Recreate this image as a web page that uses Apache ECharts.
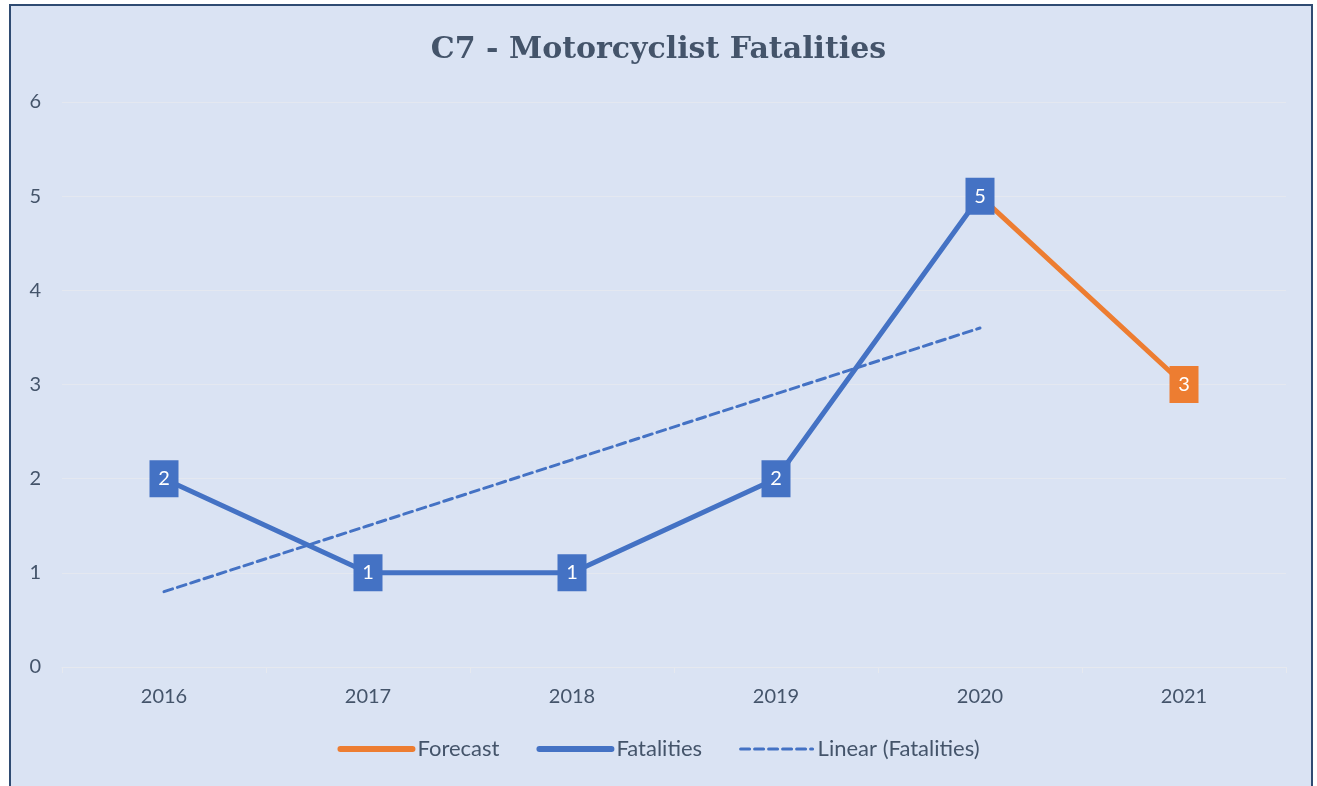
<!DOCTYPE html>
<html>
<head>
<meta charset="utf-8">
<title>C7 - Motorcyclist Fatalities</title>
<script src="https://cdn.jsdelivr.net/npm/echarts@6/dist/echarts.min.js"></script>
<style>
  html, body { margin: 0; padding: 0; background: #ffffff; }
  #chart { width: 1317px; height: 786px; }
</style>
</head>
<body>
<div id="chart"></div>
<script>
// data
const years = ['2016', '2017', '2018', '2019', '2020', '2021'];
const fatalities = [2, 1, 1, 2, 5, null];
const forecast = [null, null, null, null, 5, 3];
const linearTrend = [0.8, 1.5, 2.2, 2.9, 3.6, null];
const yTicks = [0, 1, 2, 3, 4, 5, 6];

const blue = '#4472c4';
const orange = '#ed7d31';
const textColor = '#44546a';
const bodyFont = 'Lato, "Open Sans", sans-serif';

const chart = echarts.init(document.getElementById('chart'));

// forecast starts at the 2020 point, but that box is drawn by Fatalities
const forecastData = forecast.map((v, i) => {
  if (v == null) return '-';
  if (fatalities[i] != null) return { value: v, symbol: 'none', label: { show: false } };
  return v;
});

const boxLabel = {
  show: true,
  position: 'inside',
  color: '#ffffff',
  fontSize: 20,
  fontFamily: bodyFont
};

// legend shows only the line, no marker
const legendItem = (name, width) => ({
  name: name,
  itemStyle: { opacity: 0, borderWidth: 0 },
  lineStyle: { width: width }
});

const option = {
  animation: false,
  graphic: [{
    type: 'rect',
    z: -10,
    shape: { x: 10, y: 5, width: 1302, height: 800 },
    style: { fill: '#dae3f3', stroke: '#2f4b72', lineWidth: 2 }
  }],
  title: {
    text: 'C7 - Motorcyclist Fatalities',
    left: 'center',
    top: 30,
    textStyle: {
      fontFamily: '"DejaVu Serif", serif',
      fontWeight: 'bold',
      fontSize: 30,
      color: textColor
    }
  },
  legend: {
    bottom: 21,
    left: 'center',
    itemWidth: 72,
    itemHeight: 12,
    itemGap: 37,
    textStyle: { fontFamily: bodyFont, fontSize: 22, color: textColor },
    data: [
      legendItem('Forecast', 6),
      legendItem('Fatalities', 6),
      legendItem('Linear (Fatalities)', 3)
    ]
  },
  grid: { left: 62, right: 31, top: 102, bottom: 119 },
  xAxis: {
    type: 'category',
    data: years,
    boundaryGap: true,
    axisLine: { lineStyle: { color: '#e6e9ef', width: 1 } },
    axisTick: { show: true, length: 6, lineStyle: { color: '#e6e9ef' } },
    axisLabel: { margin: 20, fontSize: 20, color: textColor, fontFamily: bodyFont }
  },
  yAxis: {
    type: 'value',
    min: yTicks[0],
    max: yTicks[yTicks.length - 1],
    interval: 1,
    axisLine: { show: false },
    axisTick: { show: false },
    splitLine: { lineStyle: { color: '#e4e8f0', width: 1 } },
    axisLabel: { margin: 21, fontSize: 20, color: textColor, fontFamily: bodyFont }
  },
  series: [
    {
      name: 'Forecast',
      type: 'line',
      data: forecastData,
      z: 2,
      symbol: 'rect',
      symbolSize: [29, 37],
      itemStyle: { color: orange },
      lineStyle: { color: orange, width: 5, cap: 'round' },
      label: boxLabel
    },
    {
      name: 'Fatalities',
      type: 'line',
      data: fatalities.map(v => (v == null ? '-' : v)),
      z: 4,
      symbol: 'rect',
      symbolSize: [29, 37],
      itemStyle: { color: blue },
      lineStyle: { color: blue, width: 5, cap: 'round' },
      label: boxLabel
    },
    {
      name: 'Linear (Fatalities)',
      type: 'line',
      data: linearTrend.map(v => (v == null ? '-' : v)),
      z: 3,
      symbol: 'none',
      itemStyle: { color: blue },
      lineStyle: { color: blue, width: 3, type: [9, 5], cap: 'round' }
    }
  ]
};

chart.setOption(option);
</script>
</body>
</html>
